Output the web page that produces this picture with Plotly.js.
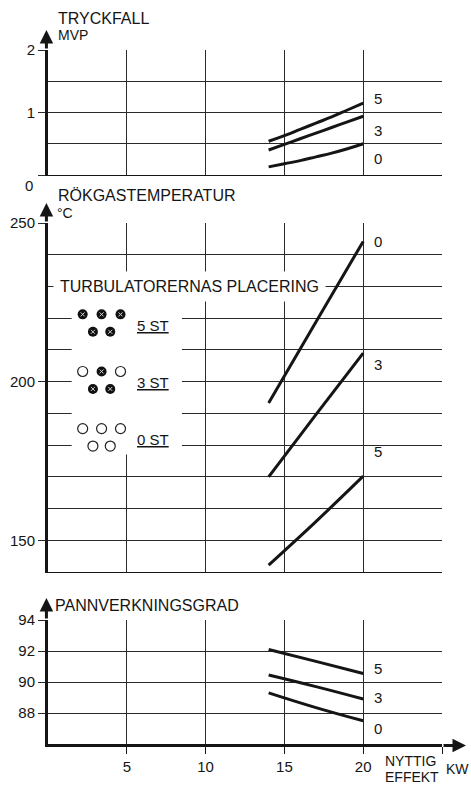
<!DOCTYPE html>
<html>
<head>
<meta charset="utf-8">
<script src="https://cdn.plot.ly/plotly-3.0.1.min.js"></script>
<style>html,body{margin:0;padding:0;background:#fff;}#chart{width:471px;height:790px;}</style>
</head>
<body>
<div id="chart"></div>
<script>
// ---------- DATA ----------
const seriesNames = ['5', '3', '0'];            // number of turbulators
const effektTop = [14, 15, 16, 17, 18, 19, 20]; // kW
const tryckfall5 = [0.54, 0.63, 0.73, 0.83, 0.93, 1.04, 1.15];
const tryckfall3 = [0.40, 0.49, 0.58, 0.67, 0.76, 0.85, 0.94];
const tryckfall0 = [0.13, 0.18, 0.23, 0.29, 0.35, 0.42, 0.50];

const effekt = [14, 17, 20]; // kW
const rokgas0 = [193.3, 218.8, 244.2];
const rokgas3 = [170.0, 189.6, 209.0];
const rokgas5 = [142.2, 155.9, 170.2];

const verkn5 = [92.1, 91.33, 90.55];
const verkn3 = [90.45, 89.7, 88.9];
const verkn0 = [89.3, 88.35, 87.5];

const xTicks = [5, 10, 15, 20, 25];
const xTickText = ['5', '10', '15', '20', ''];
const topTicks = [0, 1, 2];
const topTickText = ['0', '1', '2'];
const midTicks = [150, 200, 250];
const midTickText = ['150', '200', '250'];
const botTicks = [88, 90, 92, 94];
const botTickText = ['88', '90', '92', '94'];

const legendTitle = 'TURBULATORERNAS PLACERING';
const legendLabels = ['5 ST', '3 ST', '0 ST'];
// 1 = turbulator placed, 0 = empty position (3 top row, 2 bottom row)
const legendPatterns = [[1, 1, 1, 1, 1], [0, 1, 0, 1, 1], [0, 0, 0, 0, 0]];

// ---------- STYLE / LAYOUT ----------
const FONT = '"Liberation Sans", Arial, Helvetica, sans-serif';
const INK = '#151515';
const GRID = '#2a2a2a';
const fs = 15;

const curve = (x, y, xa, ya) => ({
  x: x, y: y, xaxis: xa, yaxis: ya, type: 'scatter', mode: 'lines',
  line: {color: INK, width: 3, shape: 'spline', smoothing: 1.3},
  hoverinfo: 'skip', showlegend: false
});

const traces = [
  curve(effektTop, tryckfall5, 'x', 'y'),
  curve(effektTop, tryckfall3, 'x', 'y'),
  curve(effektTop, tryckfall0, 'x', 'y'),
  curve(effekt, rokgas0, 'x2', 'y2'),
  curve(effekt, rokgas3, 'x2', 'y2'),
  curve(effekt, rokgas5, 'x2', 'y2'),
  curve(effekt, verkn5, 'x3', 'y3'),
  curve(effekt, verkn3, 'x3', 'y3'),
  curve(effekt, verkn0, 'x3', 'y3')
];

// legend glyphs, placed in middle-panel units
const glyphCols = [2.2, 3.4, 4.6, 2.85, 3.95];
const glyphRow = [0, 0, 0, 1, 1];
const groupTop = 221.2, groupStep = 18, rowStep = 5.5;
const filled = {x: [], y: []}, open = {x: [], y: []};
legendPatterns.forEach((pat, g) => {
  pat.forEach((v, i) => {
    const gx = glyphCols[i];
    const gy = groupTop - g * groupStep - glyphRow[i] * rowStep;
    (v ? filled : open).x.push(gx);
    (v ? filled : open).y.push(gy);
  });
});
traces.push({x: filled.x, y: filled.y, xaxis: 'x2', yaxis: 'y2', type: 'scatter', mode: 'markers',
  marker: {symbol: 'circle', size: 10, color: '#111', line: {width: 0}},
  hoverinfo: 'skip', showlegend: false, cliponaxis: false});
traces.push({x: filled.x, y: filled.y, xaxis: 'x2', yaxis: 'y2', type: 'scatter', mode: 'markers',
  marker: {symbol: 'x-thin', size: 4, color: '#ddd', line: {color: '#d0d0d0', width: 1}},
  hoverinfo: 'skip', showlegend: false, cliponaxis: false});
traces.push({x: open.x, y: open.y, xaxis: 'x2', yaxis: 'y2', type: 'scatter', mode: 'markers',
  marker: {symbol: 'circle-open', size: 10, color: '#222', line: {color: '#222', width: 1.2}},
  hoverinfo: 'skip', showlegend: false, cliponaxis: false});

const xBase = (anchor, labels) => ({
  anchor: anchor, range: [0, 25], tickmode: 'array', tickvals: xTicks, ticktext: xTickText,
  showticklabels: labels, showgrid: true, gridcolor: GRID, gridwidth: 1,
  zeroline: false, showline: true, linecolor: INK, linewidth: labels ? 3 : 1,
  ticks: labels ? 'outside' : '', ticklen: 7, tickcolor: INK, tickwidth: 1,
  ticklabelstandoff: 0,
  tickfont: {family: FONT, size: fs, color: INK}, fixedrange: true
});
const yBase = (dom, anchor, range, tv, tt, minorDt) => {
  const o = {
    domain: dom, anchor: anchor, range: range, tickmode: 'array', tickvals: tv, ticktext: tt,
    showgrid: true, gridcolor: GRID, gridwidth: 1, zeroline: false,
    showline: true, linecolor: INK, linewidth: 3,
    ticks: 'outside', ticklen: 7, tickcolor: GRID, tickwidth: 1,
    tickfont: {family: FONT, size: fs, color: INK}, fixedrange: true
  };
  if (minorDt) o.minor = {dtick: minorDt, tick0: range[0], showgrid: true, gridcolor: GRID, gridwidth: 1, ticks: ''};
  return o;
};

// plot area: x 48..442, y 50..744 (694 px)
const H = 694;
const py = p => (744 - p) / H; // pixel -> paper y
const px = p => (p - 48) / 394; // pixel -> paper x

const txt = (text, x, y, xref, yref, extra) => Object.assign({
  text: text, x: x, y: y, xref: xref, yref: yref, showarrow: false,
  font: {family: FONT, size: fs, color: INK}, xanchor: 'left', yanchor: 'middle'
}, extra || {});
const big = {font: {family: FONT, size: 16, color: INK}};
const small = {font: {family: FONT, size: 14, color: INK}};

const arrow = (x, y, ax, ay) => ({
  text: '', x: x, y: y, xref: 'paper', yref: 'paper', showarrow: true,
  ax: ax, ay: ay, arrowhead: 2, arrowsize: 0.9, arrowwidth: 3, arrowcolor: INK,
  standoff: 0, startstandoff: 0
});

const annotations = [
  // axis titles
  txt('TRYCKFALL', px(56), py(18), 'paper', 'paper', big),
  txt('MVP', px(56), py(35), 'paper', 'paper', small),
  txt('RÖKGASTEMPERATUR', px(56), py(195), 'paper', 'paper', big),
  txt('°C', px(55), py(213), 'paper', 'paper', small),
  txt('PANNVERKNINGSGRAD', px(53), py(605), 'paper', 'paper', big),
  txt('NYTTIG', px(383), py(761), 'paper', 'paper', small),
  txt('EFFEKT', px(383), py(777), 'paper', 'paper', small),
  txt('KW', px(444), py(769), 'paper', 'paper', small),
  // offset zero label of the top panel
  txt(topTickText[0], px(35), 0, 'paper', 'y', {xanchor: 'right', yshift: -10}),
  // axis arrows
  arrow(px(48) - 0.004, py(30), 0, 20),
  arrow(px(48) - 0.004, py(203), 0, 20),
  arrow(px(48) - 0.004, py(598), 0, 22),
  arrow(px(466), 0 - 0.002, -24, 0),
  // legend in middle panel
  txt(legendTitle, 0.32, 230, 'x2', 'y2', {bgcolor: '#fff', borderpad: 6, font: {family: FONT, size: 16, color: INK}})
];
legendLabels.forEach((l, g) => {
  annotations.push(txt('<u>' + l + '</u>', 5.5, groupTop - g * groupStep - 3.5, 'x2', 'y2'));
});
// series labels at the right of the curves
const labelX = 20.95;
const topLabelY = [1.23, 0.72, 0.26];
const midLabelY = {'0': 244.3, '3': 205.3, '5': 178.0};
const botLabelY = [90.9, 88.97, 86.97];
seriesNames.forEach((n, i) => {
  annotations.push(txt(n, labelX, topLabelY[i], 'x', 'y', {xanchor: 'center'}));
  annotations.push(txt(n, labelX, midLabelY[n], 'x2', 'y2', {xanchor: 'center'}));
  annotations.push(txt(n, labelX, botLabelY[i], 'x3', 'y3', {xanchor: 'center'}));
});

const layout = {
  width: 471, height: 790,
  margin: {l: 48, r: 29, t: 50, b: 46, pad: 0},
  paper_bgcolor: '#fff', plot_bgcolor: '#fff',
  showlegend: false,
  font: {family: FONT, size: fs, color: INK},
  xaxis: xBase('y', false),
  xaxis2: xBase('y2', false),
  xaxis3: xBase('y3', true),
  yaxis: yBase([py(175), 1], 'x', [0, 2], topTicks, ['', topTickText[1], topTickText[2]], 0.5),
  yaxis2: yBase([py(572), py(223)], 'x2', [140, 250], midTicks, midTickText, 10),
  yaxis3: yBase([0, py(620)], 'x3', [86, 94], botTicks, botTickText, 2),
  shapes: [{type: 'rect', xref: 'x2', yref: 'y2', x0: 1.5, x1: 8.5, y0: 177, y1: 227,
    fillcolor: '#fff', line: {width: 0}, layer: 'between'}],
  annotations: annotations
};

Plotly.newPlot('chart', traces, layout, {staticPlot: true, displayModeBar: false});
</script>
</body>
</html>
